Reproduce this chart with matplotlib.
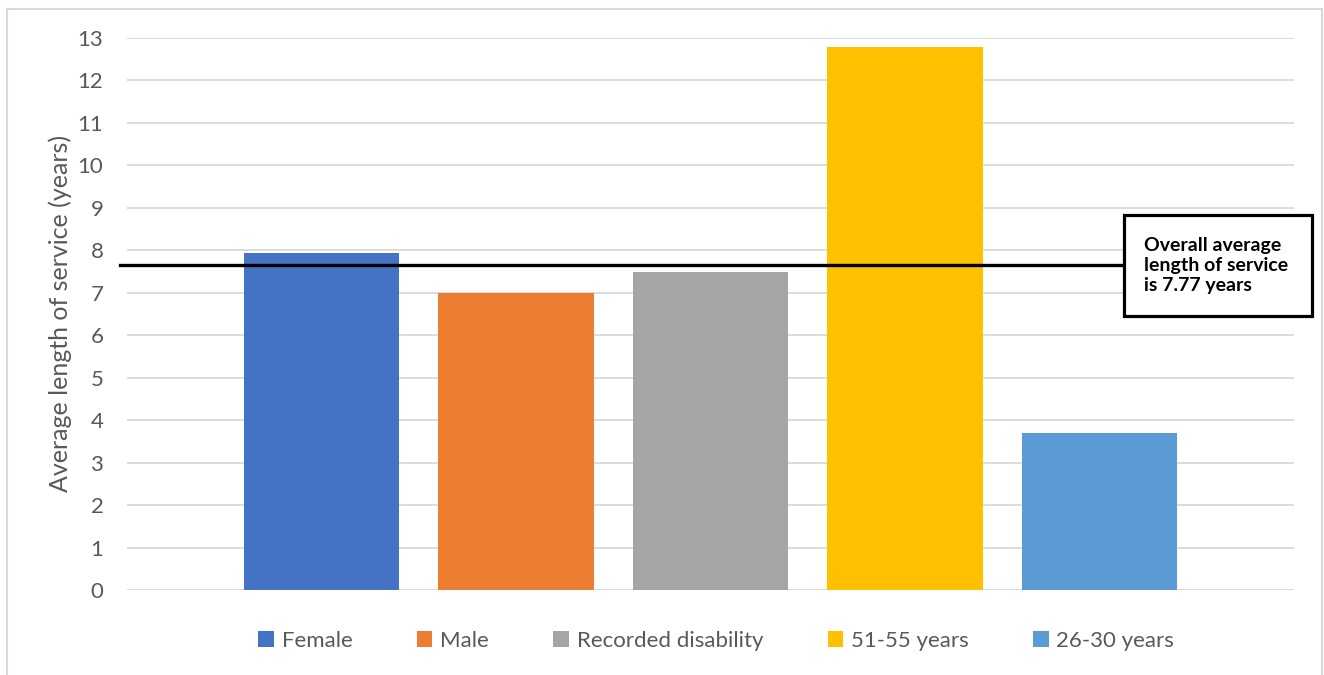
import matplotlib
matplotlib.use("Agg")
import matplotlib.pyplot as plt
from matplotlib.patches import Rectangle, Patch
import matplotlib.transforms as mtransforms

plt.rcParams['font.family'] = ['Lato', 'DejaVu Sans']

categories = ["Female", "Male", "Recorded disability", "51-55 years", "26-30 years"]
values = [7.93, 6.98, 7.48, 12.77, 3.69]
colors = ["#4472C4", "#ED7D31", "#A5A5A5", "#FFC000", "#5B9BD5"]
overall_line = 7.66
box_text = "Overall average\nlength of service\nis 7.77 years"
yticks = list(range(0, 14))

W, H = 1324, 675
fig = plt.figure(figsize=(W / 100, H / 100), dpi=100)

# outer chart border
fig.patches.append(Rectangle((6.5 / W, -0.01), (1322 - 6.5) / W, 1 - 8.5 / H + 0.01,
                             transform=fig.transFigure, fill=False,
                             edgecolor="#d9d9d9", linewidth=1.5))

left, right, top, bottom = 127 / W, 1294 / W, 1 - 37.7 / H, 1 - 590 / H
ax = fig.add_axes([left, bottom, right - left, top - bottom])

x = list(range(len(categories)))
ax.bar(x, values, width=0.80, color=colors, zorder=3)

ax.set_xlim(-1, 5)
ax.set_ylim(0, 13)
ax.set_yticks(yticks)
ax.set_xticks([])
ax.yaxis.grid(True, color="#d9d9d9", linewidth=1.3, zorder=0)
ax.set_axisbelow(True)
for s in ax.spines.values():
    s.set_visible(False)
ax.tick_params(axis='y', length=0, pad=17, labelsize=16, labelcolor="#595959")
ax.set_ylabel("Average length of service (years)", fontsize=18, color="#595959", labelpad=4)

# overall average line
trans = mtransforms.blended_transform_factory(ax.transAxes, ax.transData)
ax.plot([-0.006, 0.854], [overall_line, overall_line], transform=trans,
        color="black", linewidth=2.4, clip_on=False, zorder=5)

# annotation box
y_top = (590 - 215) / ((590 - 37.7) / 13)
y_bot = (590 - 316) / ((590 - 37.7) / 13)
ax.add_patch(Rectangle((0.854, y_bot), 1.0154 - 0.854, y_top - y_bot, transform=trans,
                       facecolor="white", edgecolor="black", linewidth=2.3,
                       clip_on=False, zorder=6))
ax.text(0.8715, (y_top + y_bot) / 2, box_text, transform=trans, ha="left", va="center",
        fontsize=14, fontweight="bold", color="black", linespacing=1.2, zorder=7)

handles = [Patch(facecolor=c, edgecolor="none") for c in colors]
fig.legend(handles, categories, loc="center", bbox_to_anchor=(0.541, 1 - 641 / H),
           ncol=5, frameon=False, fontsize=16, labelcolor="#595959",
           handlelength=0.7, handleheight=0.7, handletextpad=0.35, columnspacing=2.9)

fig.savefig("out.png", dpi=100)
